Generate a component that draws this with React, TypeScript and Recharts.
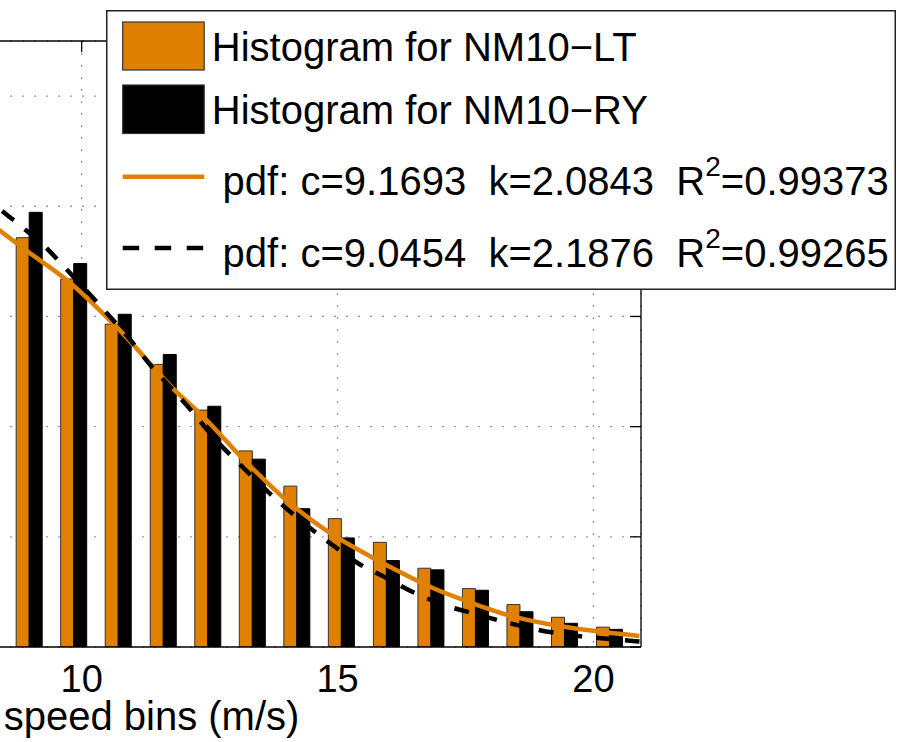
import React from 'react';
import { ComposedChart, Bar, Line, XAxis, YAxis, CartesianGrid, Legend } from 'recharts';

const ORANGE = '#df8000';
const FONT = '"Liberation Sans", Arial, Helvetica, sans-serif';

// bin centres (m/s) of the visible histogram groups
const binCentres = [8.98, 9.85, 10.72, 11.6, 12.47, 13.34, 14.21, 15.08, 15.96, 16.83, 17.7, 18.57, 19.44, 20.32];
const ltHist = [0.0743, 0.0668, 0.0586, 0.0513, 0.043, 0.0356, 0.0292, 0.0233, 0.019, 0.0143, 0.0106, 0.0077, 0.0054, 0.0036];
const ryHist = [0.0789, 0.0696, 0.0604, 0.0531, 0.0437, 0.0341, 0.0251, 0.0198, 0.0157, 0.014, 0.0103, 0.0064, 0.0043, 0.0032];

// fitted pdf curves
const ltPdfX = [8.01, 8.4, 8.96, 9.71, 10.68, 11.92, 12.31, 13.22, 14.07, 14.85, 15.67, 16.22, 16.86, 17.53, 18.37, 19.21, 20.12, 20.9];
const ltPdfY = [0.0784, 0.0756, 0.0717, 0.0666, 0.0581, 0.0457, 0.0424, 0.0335, 0.0261, 0.0207, 0.0163, 0.0136, 0.0107, 0.0083, 0.0057, 0.004, 0.0028, 0.002];
const ryPdfX = [8.01, 8.4, 8.8, 9.28, 9.69, 10.14, 10.55, 10.98, 11.35, 11.77, 12.19, 12.6, 13.01, 13.92, 14.42, 14.89, 15.4, 15.94, 16.49, 17.12, 17.66, 18.29, 18.93, 19.52, 20.16, 20.9];
const ryPdfY = [0.0825, 0.0795, 0.0765, 0.0727, 0.0687, 0.0642, 0.06, 0.0554, 0.0511, 0.0468, 0.0424, 0.0378, 0.0339, 0.0258, 0.0219, 0.0186, 0.0152, 0.0126, 0.0099, 0.0075, 0.0061, 0.0045, 0.0031, 0.0022, 0.0016, 0.001];

const xTicks = [5, 10, 15, 20];
const yTicks = [0, 0.02, 0.04, 0.06, 0.08, 0.1];
const xDomain = [1.8, 20.93];

const histLabels = ['Histogram for NM10\u2212LT', 'Histogram for NM10\u2212RY'];
const fitC = ['9.1693', '9.0454'];
const fitK = ['2.0843', '2.1876'];
const fitR2 = ['0.99373', '0.99265'];

const histData = binCentres.map((x, i) => ({ x, lt: ltHist[i], ry: ryHist[i] }));
const ltPdf = ltPdfX.map((x, i) => ({ x, y: ltPdfY[i] }));
const ryPdf = ryPdfX.map((x, i) => ({ x, y: ryPdfY[i] }));

const noLabel = () => '';

const FitText = ({ y, i }: { y: number; i: number }) => (
  <text x={105.5} y={y} fontSize={40} fontFamily={FONT} fill="#000" xmlSpace="preserve" style={{ whiteSpace: 'pre' }}>
    <tspan>{` pdf: c=${fitC[i]}  k=${fitK[i]}  R`}</tspan>
    <tspan dy={-19} fontSize={28}>2</tspan>
    <tspan dy={19}>{`=${fitR2[i]}`}</tspan>
  </text>
);

const LegendBox = () => (
  <svg width={790} height={280} style={{ display: 'block' }}>
    <rect x={0.75} y={0.75} width={788.5} height={278.5} fill="#fff" stroke="#222" strokeWidth={1.5} />
    <rect x={16.7} y={12} width={81.5} height={48} fill={ORANGE} stroke="#333" strokeWidth={1.2} />
    <rect x={16.7} y={75} width={81.5} height={48.5} fill="#000" stroke="#333" strokeWidth={1.2} />
    <text x={105.8} y={51} fontSize={40} fontFamily={FONT} fill="#000">{histLabels[0]}</text>
    <text x={105.8} y={114} fontSize={40} fontFamily={FONT} fill="#000">{histLabels[1]}</text>
    <line x1={16.7} x2={98.2} y1={166.7} y2={166.7} stroke={ORANGE} strokeWidth={4.5} />
    <FitText y={185} i={0} />
    <line x1={16.7} x2={98.2} y1={238} y2={238} stroke="#000" strokeWidth={4.5} strokeDasharray="16.5 15.5" />
    <FitText y={257} i={1} />
  </svg>
);

export default function App() {
  return (
    <div style={{ position: 'absolute', left: -400, top: 0, fontFamily: FONT }}>
      <ComposedChart
        width={1298}
        height={742}
        data={histData}
        margin={{ top: 41, right: 257, bottom: 0, left: 62 }}
        barGap={0}
      >
        <CartesianGrid stroke="#999" strokeDasharray="2 10" strokeWidth={1.3} />
        <XAxis
          dataKey="x"
          type="number"
          domain={xDomain}
          allowDataOverflow
          ticks={xTicks}
          interval={0}
          height={95}
          tickLine={false}
          tickSize={6}
          tickMargin={12}
          axisLine={{ stroke: '#000', strokeWidth: 1.3 }}
          tick={{ fill: '#000', fontSize: 38, fontFamily: FONT }}
          label={{ value: 'speed bins (m/s)', position: 'insideBottom', offset: 12, fill: '#000', fontSize: 40, fontFamily: FONT }}
        />
        <XAxis
          xAxisId="top"
          dataKey="x"
          orientation="top"
          type="number"
          domain={xDomain}
          allowDataOverflow
          ticks={xTicks}
          interval={0}
          mirror
          height={1}
          tickFormatter={noLabel}
          tick={{ fontSize: 1 }}
          tickSize={11}
          axisLine={{ stroke: '#000', strokeWidth: 1.3 }}
          tickLine={{ stroke: '#000', strokeWidth: 1.3 }}
        />
        <YAxis
          orientation="right"
          type="number"
          domain={[0, 0.11]}
          allowDataOverflow
          ticks={yTicks}
          interval={0}
          mirror
          width={1}
          tickFormatter={noLabel}
          tick={{ fontSize: 1 }}
          tickSize={11}
          axisLine={{ stroke: '#000', strokeWidth: 1.3 }}
          tickLine={{ stroke: '#000', strokeWidth: 1.3 }}
        />
        <Bar dataKey="lt" fill={ORANGE} stroke="#333" strokeWidth={1} barSize={13} isAnimationActive={false} />
        <Bar dataKey="ry" fill="#000" stroke="#000" strokeWidth={1} barSize={13} isAnimationActive={false} />
        <Line xAxisId="top" data={ltPdf} dataKey="y" type="monotone" stroke={ORANGE} strokeWidth={4.5} dot={false} activeDot={false} isAnimationActive={false} />
        <Line xAxisId="top" data={ryPdf} dataKey="y" type="monotone" stroke="#000" strokeWidth={4.5} strokeDasharray="15 14" dot={false} activeDot={false} isAnimationActive={false} />
        <Legend
          layout="horizontal"
          align="center"
          verticalAlign="middle"
          content={() => <LegendBox />}
          wrapperStyle={{ left: 506, top: 10, width: 790, height: 280 }}
        />
      </ComposedChart>
    </div>
  );
}
